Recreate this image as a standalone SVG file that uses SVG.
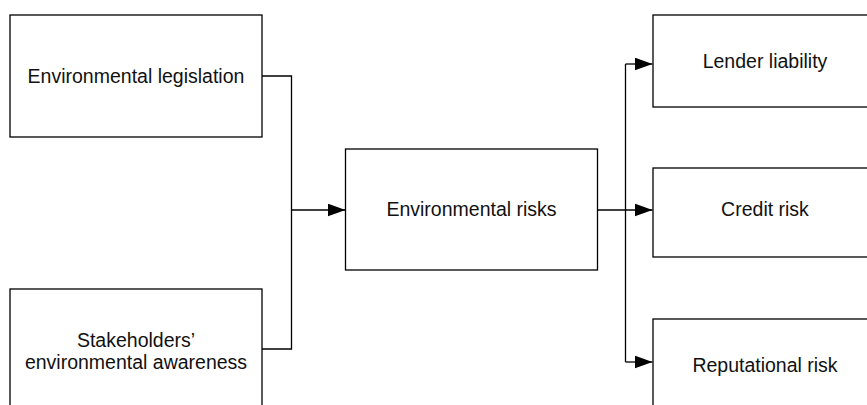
<svg xmlns="http://www.w3.org/2000/svg" width="867" height="405" viewBox="0 0 867 405">
<style>
.box{fill:#fff;stroke:#000;stroke-width:1.3}
.lbl{font-family:"Liberation Sans",Arial,sans-serif;font-size:19.5px;fill:#111;text-anchor:middle}
.con{fill:none;stroke:#000;stroke-width:1.3}
</style>
<defs>
<marker id="ah" markerWidth="18" markerHeight="13" refX="18" refY="6.5" orient="auto" markerUnits="userSpaceOnUse">
<path d="M0,0 L18,6.5 L0,13 Z" fill="#000"/>
</marker>
</defs>
<rect width="867" height="405" fill="#fff"/>
<g id="connectors">
<path class="con" d="M262,76 H291.5 V349 H262"/>
<path class="con" d="M291.5,210 H345.5" marker-end="url(#ah)"/>
<path class="con" d="M597.5,210 H652.5" marker-end="url(#ah)"/>
<path class="con" d="M625.5,64 V362"/>
<path class="con" d="M625.5,64 H652.5" marker-end="url(#ah)"/>
<path class="con" d="M625.5,362 H652.5" marker-end="url(#ah)"/>
</g>
<g id="n-legislation">
<rect class="box" x="10" y="15" width="252" height="122"/>
<text class="lbl" x="136" y="83">Environmental legislation</text>
</g>
<g id="n-stakeholders">
<rect class="box" x="10" y="289" width="252" height="130"/>
<text class="lbl" x="136" y="347">Stakeholders’</text>
<text class="lbl" x="136" y="369">environmental awareness</text>
</g>
<g id="n-risks">
<rect class="box" x="345.5" y="149" width="252" height="121"/>
<text class="lbl" x="471.5" y="216">Environmental risks</text>
</g>
<g id="n-lender">
<rect class="box" x="653" y="15" width="224" height="92"/>
<text class="lbl" x="765" y="68">Lender liability</text>
</g>
<g id="n-credit">
<rect class="box" x="653" y="168" width="224" height="89"/>
<text class="lbl" x="765" y="216">Credit risk</text>
</g>
<g id="n-reputational">
<rect class="box" x="653" y="319" width="224" height="100"/>
<text class="lbl" x="765" y="372">Reputational risk</text>
</g>
</svg>
